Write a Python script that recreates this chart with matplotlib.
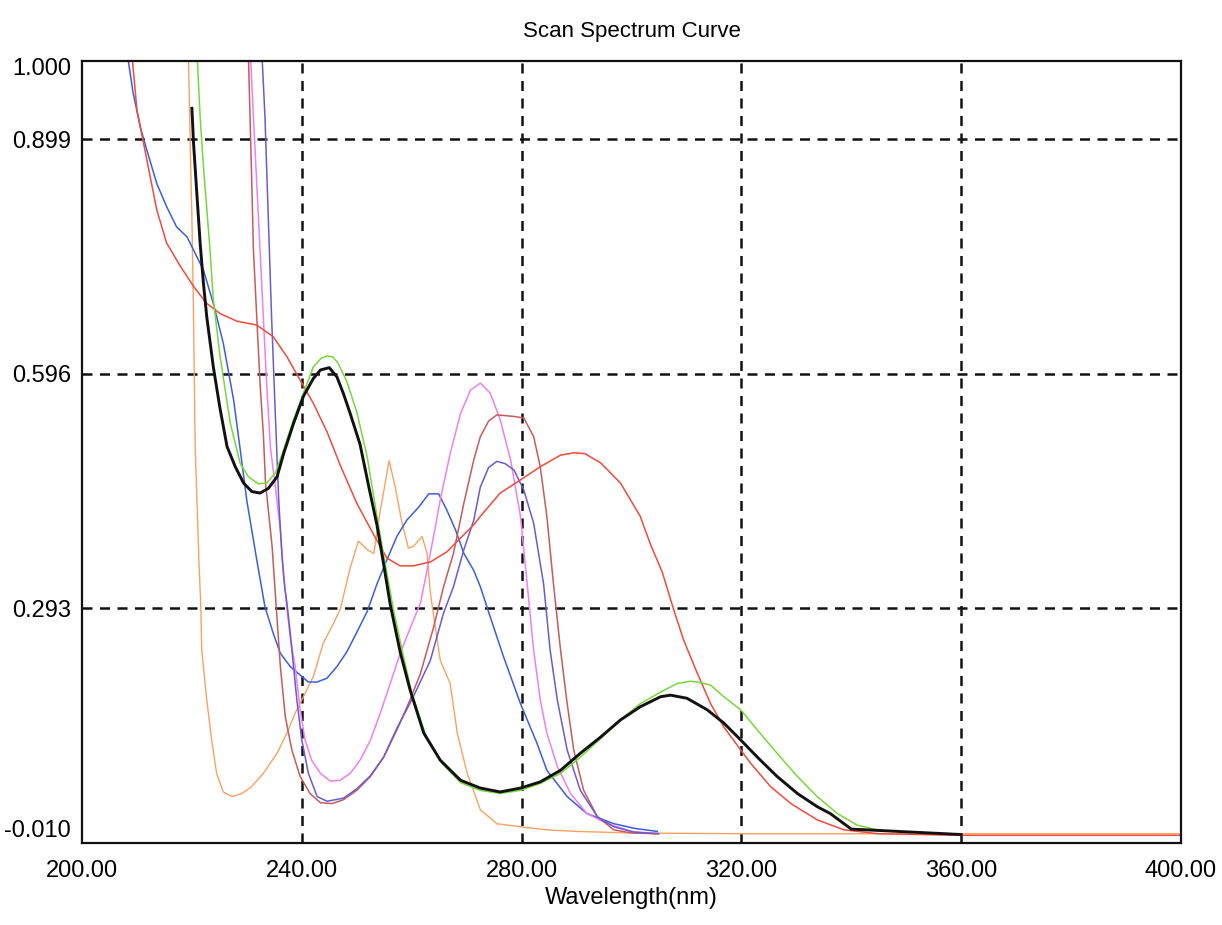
import matplotlib
matplotlib.use("Agg")
import matplotlib.pyplot as plt
from matplotlib.transforms import ScaledTranslation

# wavelength (nm) / absorbance
orange_x = [219.3, 219.7, 220.0, 220.3, 220.6, 221.3, 221.6, 221.8, 222.7, 223.6, 224.5, 225.7, 227.3, 229.1,
            230.9, 233.0, 235.5, 237.3, 238.8, 240.3, 242.1, 243.9, 245.8, 247.0, 248.8, 250.3, 251.9, 253.1,
            254.3, 255.9, 257.0, 258.2, 259.4, 260.3, 261.9, 262.8, 263.4, 264.3, 265.2, 267.0, 268.3, 270.1,
            272.5, 275.5, 279.8, 284.6, 290.0, 300.0, 320.0, 400.0]
orange_y = [1.03, 0.890, 0.799, 0.670, 0.502, 0.350, 0.300, 0.239, 0.175, 0.123, 0.080, 0.056, 0.050, 0.054,
            0.063, 0.080, 0.106, 0.132, 0.158, 0.179, 0.205, 0.248, 0.274, 0.292, 0.345, 0.380, 0.369, 0.364,
            0.420, 0.484, 0.450, 0.405, 0.371, 0.373, 0.386, 0.364, 0.313, 0.269, 0.226, 0.196, 0.132, 0.080,
            0.033, 0.015, 0.011, 0.007, 0.005, 0.003, 0.002, 0.002]

blue_x = [207.8, 209.3, 210.6, 211.8, 213.6, 215.4, 217.2, 219.1, 220.3, 222.1, 223.9, 225.7, 227.6, 228.8,
          230.0, 231.8, 233.3, 234.8, 236.1, 237.9, 239.7, 241.2, 242.8, 244.6, 246.4, 248.2, 250.0, 251.9,
          253.7, 255.5, 257.3, 259.1, 261.3, 263.1, 264.9, 266.4, 268.0, 269.5, 271.3, 272.5, 274.3, 276.7,
          279.8, 282.8, 284.6, 288.3, 291.9, 296.8, 300.5, 304.7]
blue_y = [1.03, 0.959, 0.915, 0.885, 0.842, 0.812, 0.786, 0.773, 0.756, 0.730, 0.687, 0.636, 0.562, 0.498,
          0.432, 0.356, 0.295, 0.261, 0.235, 0.218, 0.207, 0.198, 0.198, 0.203, 0.218, 0.237, 0.262, 0.289,
          0.325, 0.356, 0.386, 0.407, 0.424, 0.441, 0.441, 0.420, 0.394, 0.364, 0.342, 0.321, 0.282, 0.231,
          0.170, 0.119, 0.084, 0.050, 0.028, 0.015, 0.009, 0.005]

pink_x = [230.5, 231.2, 231.8, 232.4, 233.0, 233.6, 234.3, 235.2, 236.1, 236.7, 237.3, 238.0, 238.8, 239.7,
          240.6, 241.8, 243.4, 245.2, 247.0, 248.8, 250.6, 252.5, 254.3, 256.1, 257.9, 259.7, 261.6, 263.4,
          265.2, 267.0, 268.9, 270.7, 272.5, 274.3, 276.1, 278.0, 279.8, 281.0, 282.2, 283.4, 284.6, 286.5,
          288.9, 291.9, 295.6, 300.0, 304.7]
pink_y = [1.03, 0.928, 0.842, 0.756, 0.670, 0.584, 0.500, 0.450, 0.394, 0.335, 0.292, 0.250, 0.218, 0.162,
          0.123, 0.097, 0.080, 0.070, 0.071, 0.080, 0.097, 0.123, 0.158, 0.196, 0.235, 0.267, 0.300, 0.364,
          0.433, 0.493, 0.545, 0.575, 0.584, 0.571, 0.537, 0.485, 0.412, 0.326, 0.239, 0.175, 0.132, 0.089,
          0.054, 0.028, 0.015, 0.005, 0.002]

brown_x = [230.2, 230.9, 231.2, 231.8, 232.4, 233.0, 233.4, 234.6, 235.3, 236.1, 237.0, 238.2, 239.7, 241.5,
           243.4, 245.5, 247.6, 250.0, 252.5, 254.9, 257.3, 259.7, 261.6, 264.0, 265.8, 267.6, 269.5, 271.3,
           272.5, 274.0, 275.5, 278.6, 280.4, 282.2, 283.4, 284.6, 285.8, 287.1, 288.3, 289.5, 291.3, 293.8,
           296.8, 300.0, 304.7]
brown_y = [1.03, 0.842, 0.756, 0.670, 0.584, 0.519, 0.455, 0.373, 0.300, 0.218, 0.153, 0.110, 0.076, 0.054,
           0.042, 0.041, 0.046, 0.058, 0.076, 0.101, 0.136, 0.175, 0.209, 0.269, 0.321, 0.364, 0.429, 0.485,
           0.515, 0.535, 0.543, 0.541, 0.539, 0.515, 0.476, 0.412, 0.325, 0.239, 0.170, 0.110, 0.058, 0.024,
           0.007, 0.003, 0.002]

purple_x = [232.6, 233.3, 233.9, 234.5, 235.2, 235.8, 236.4, 236.9, 237.3, 237.9, 238.5, 239.1, 240.0, 241.2,
            242.8, 244.6, 247.6, 250.0, 252.5, 254.9, 257.3, 260.3, 263.4, 265.8, 267.6, 269.5, 271.3, 272.5,
            274.0, 275.5, 277.0, 278.6, 280.4, 282.2, 284.0, 285.2, 286.5, 288.3, 290.7, 293.8, 296.8, 300.5,
            305.0]
purple_y = [1.03, 0.928, 0.799, 0.670, 0.541, 0.433, 0.360, 0.320, 0.300, 0.261, 0.218, 0.175, 0.123, 0.080,
            0.050, 0.044, 0.048, 0.060, 0.077, 0.101, 0.138, 0.179, 0.226, 0.287, 0.321, 0.369, 0.407, 0.450,
            0.475, 0.483, 0.480, 0.472, 0.446, 0.403, 0.325, 0.239, 0.175, 0.110, 0.058, 0.024, 0.011, 0.004,
            0.002]

red_x = [208.8, 210.0, 211.2, 212.4, 213.6, 215.4, 217.9, 220.3, 222.7, 225.1, 228.2, 231.8, 234.8, 237.3,
         239.7, 242.1, 244.6, 247.0, 250.0, 253.1, 255.5, 257.9, 260.3, 263.4, 266.4, 268.9, 271.3, 272.5,
         276.1, 279.8, 283.4, 287.1, 289.5, 291.5, 294.4, 298.0, 301.6, 303.5, 305.6, 307.7, 309.5, 312.0,
         314.4, 316.8, 319.9, 321.7, 325.3, 329.0, 333.8, 338.7, 345.0, 360.0, 400.0]
red_y = [1.03, 0.937, 0.894, 0.851, 0.808, 0.765, 0.735, 0.709, 0.687, 0.674, 0.664, 0.659, 0.644, 0.618,
         0.588, 0.558, 0.521, 0.478, 0.429, 0.388, 0.358, 0.348, 0.348, 0.353, 0.366, 0.384, 0.401, 0.412,
         0.442, 0.459, 0.476, 0.491, 0.494, 0.493, 0.481, 0.455, 0.412, 0.375, 0.340, 0.291, 0.252, 0.209,
         0.170, 0.140, 0.110, 0.093, 0.063, 0.041, 0.020, 0.007, 0.002, 0.0, 0.0]

green_x = [220.8, 221.5, 222.1, 223.3, 223.9, 225.1, 227.0, 228.8, 230.3, 232.1, 233.6, 235.2, 236.7, 238.5,
           240.3, 242.1, 243.5, 244.6, 245.6, 246.6, 248.2, 250.0, 251.9, 253.1, 254.3, 255.5, 256.7, 258.5,
           260.0, 262.5, 265.5, 268.9, 272.5, 276.1, 279.8, 283.4, 287.1, 290.7, 294.4, 298.0, 301.6, 305.3,
           308.3, 310.7, 312.0, 314.4, 316.8, 319.9, 322.9, 326.5, 330.2, 333.8, 337.5, 341.1, 344.7, 347.5]
green_y = [1.03, 0.928, 0.864, 0.756, 0.692, 0.620, 0.532, 0.480, 0.463, 0.454, 0.455, 0.468, 0.498, 0.537,
           0.571, 0.605, 0.616, 0.619, 0.618, 0.610, 0.586, 0.547, 0.489, 0.437, 0.386, 0.338, 0.291, 0.231,
           0.185, 0.130, 0.093, 0.068, 0.058, 0.054, 0.058, 0.067, 0.080, 0.101, 0.125, 0.149, 0.170, 0.185,
           0.196, 0.199, 0.198, 0.194, 0.179, 0.162, 0.136, 0.106, 0.076, 0.050, 0.028, 0.013, 0.007, 0.005]

black_x = [220.0, 220.3, 220.9, 221.5, 222.1, 222.7, 223.9, 225.1, 226.4, 227.9, 229.4, 230.9, 232.4, 233.9,
           235.5, 236.7, 238.5, 240.3, 242.1, 243.4, 245.0, 246.4, 247.6, 248.8, 250.6, 252.2, 253.7, 254.9,
           256.1, 257.9, 259.7, 262.2, 265.2, 268.9, 272.5, 276.1, 279.8, 283.4, 287.1, 290.7, 294.4, 298.0,
           301.6, 305.3, 307.1, 310.1, 313.8, 316.8, 319.9, 322.9, 326.5, 330.2, 333.8, 336.2, 340.0, 360.0]
black_y = [0.939, 0.894, 0.829, 0.765, 0.713, 0.670, 0.605, 0.552, 0.502, 0.476, 0.455, 0.444, 0.442, 0.448,
           0.463, 0.493, 0.532, 0.567, 0.590, 0.601, 0.604, 0.592, 0.570, 0.545, 0.505, 0.450, 0.400, 0.350,
           0.298, 0.237, 0.188, 0.132, 0.097, 0.071, 0.061, 0.056, 0.061, 0.069, 0.084, 0.106, 0.127, 0.149,
           0.166, 0.179, 0.181, 0.177, 0.162, 0.145, 0.123, 0.101, 0.076, 0.054, 0.037, 0.028, 0.008, 0.001]

yticks = [-0.010, 0.293, 0.596, 0.899, 1.000]
ytick_labels = ['-0.010', '0.293', '0.596', '0.899', '1.000']
xticks = [200, 240, 280, 320, 360, 400]
xtick_labels = ['200.00', '240.00', '280.00', '320.00', '360.00', '400.00']

plt.rcParams['font.family'] = ['Liberation Sans', 'DejaVu Sans']

fig = plt.figure(figsize=(12.22, 9.25), dpi=100)
ax = fig.add_axes([0.0671, 0.0886, 0.8993, 0.8454])

ax.plot(orange_x, orange_y, color='#f9a264', lw=1.0)
ax.plot(blue_x, blue_y, color='#3b5fdb', lw=1.1)
ax.plot(pink_x, pink_y, color='#f07ff0', lw=1.1)
ax.plot(brown_x, brown_y, color='#c45c5c', lw=1.1)
ax.plot(purple_x, purple_y, color='#6b5ad2', lw=1.1)
ax.plot(red_x, red_y, color='#f24a3c', lw=1.1)
ax.plot(green_x, green_y, color='#78d83a', lw=1.1)
ax.plot(black_x, black_y, color='#111111', lw=2.1)

ax.set_xlim(200, 400)
ax.set_ylim(-0.010, 1.000)

# dashed grid only inside the frame
for gx in [240, 280, 320, 360]:
    ax.axvline(gx, color='#111111', lw=1.8, ls=(0, (4, 3)), zorder=0.5)
for gy in [0.293, 0.596, 0.899]:
    ax.axhline(gy, color='#111111', lw=1.8, ls=(0, (4, 3)), zorder=0.5)

ax.set_xticks(xticks)
ax.set_xticklabels(xtick_labels, fontsize=17)
ax.set_yticks(yticks)
ax.set_yticklabels(ytick_labels, fontsize=17)
ax.tick_params(axis='x', length=0, pad=12)
ax.tick_params(axis='y', length=0, pad=8)

# nudge end labels the way the instrument software draws them
labs = ax.get_yticklabels()
labs[0].set_transform(labs[0].get_transform() + ScaledTranslation(0, 15 / 100, fig.dpi_scale_trans))
labs[-1].set_transform(labs[-1].get_transform() + ScaledTranslation(0, -5 / 100, fig.dpi_scale_trans))

for s in ax.spines.values():
    s.set_linewidth(1.6)
    s.set_color('#111111')

ax.set_xlabel('Wavelength(nm)', fontsize=17, labelpad=4)
ax.set_title('Scan Spectrum Curve', fontsize=16, pad=17)

fig.savefig('out.png', dpi=100, facecolor='white')
